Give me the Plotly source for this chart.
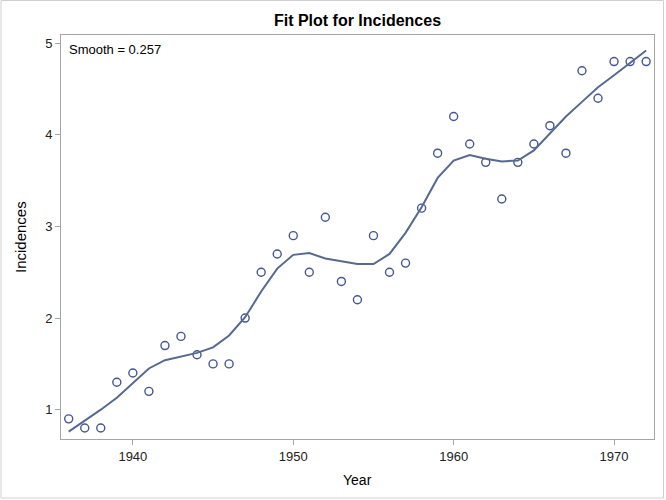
import plotly.graph_objects as go

years = list(range(1936, 1973))
incidences = [0.9, 0.8, 0.8, 1.3, 1.4, 1.2, 1.7, 1.8, 1.6, 1.5, 1.5, 2.0, 2.5, 2.7, 2.9,
              2.5, 3.1, 2.4, 2.2, 2.9, 2.5, 2.6, 3.2, 3.8, 4.2, 3.9, 3.7, 3.3, 3.7, 3.9,
              4.1, 3.8, 4.7, 4.4, 4.8, 4.8, 4.8]
fit_values = [0.76, 0.88, 1.00, 1.13, 1.29, 1.45, 1.54, 1.58, 1.62, 1.68, 1.81, 2.01,
              2.29, 2.54, 2.69, 2.71, 2.65, 2.62, 2.59, 2.59, 2.70, 2.93, 3.21, 3.53,
              3.72, 3.78, 3.74, 3.71, 3.72, 3.83, 4.02, 4.20, 4.36, 4.52, 4.65, 4.78, 4.92]
x_ticks = [1940, 1950, 1960, 1970]
y_ticks = [1, 2, 3, 4, 5]

FONT = "Liberation Sans, Arial, sans-serif"
W, H = 666, 500
L, R, T, B = 61, 12, 35, 61
pw = W - L - R
ph = H - T - B

fig = go.Figure()
fig.add_trace(go.Scatter(
    x=years, y=incidences, mode="markers",
    marker=dict(symbol="circle-open", size=8, color="#445694", line=dict(width=1.4, color="#445694")),
    showlegend=False, hoverinfo="x+y"))
fig.add_trace(go.Scatter(
    x=years, y=fit_values, mode="lines",
    line=dict(color="#56698f", width=2),
    showlegend=False))

axis_common = dict(
    showline=True, linecolor="#a5a5a5", linewidth=1, mirror=True,
    ticks="outside", ticklen=5, tickcolor="#a5a5a5", tickwidth=1,
    showgrid=False, zeroline=False,
    tickfont=dict(family=FONT, size=13, color="#222222"),
)


def px_x(px):
    return (px - L) / pw


def px_y(py):
    return 1 - (py - T) / ph


fig.update_layout(
    width=W, height=H,
    margin=dict(l=L, r=R, t=T, b=B, autoexpand=False),
    paper_bgcolor="white", plot_bgcolor="white",
    title=dict(text="<b>Fit Plot for Incidences</b>", x=(L + pw / 2) / W, xanchor="center",
               y=1 - 20 / H, yanchor="middle",
               font=dict(family=FONT, size=16, color="#000000")),
    xaxis=dict(range=[1935.52, 1972.49], tickvals=x_ticks, **axis_common),
    yaxis=dict(range=[0.68, 5.09], tickvals=y_ticks, **axis_common),
    annotations=[
        dict(text="Smooth = 0.257", xref="paper", yref="paper", x=6 / pw, y=1 - 5 / ph,
             xanchor="left", yanchor="top", showarrow=False,
             font=dict(family=FONT, size=13, color="#000000")),
        dict(text="Year", xref="paper", yref="paper", x=0.5, y=px_y(480),
             xanchor="center", yanchor="middle", showarrow=False,
             font=dict(family=FONT, size=14, color="#000000")),
        dict(text="Incidences", xref="paper", yref="paper", x=px_x(20), y=0.5, textangle=-90,
             xanchor="center", yanchor="middle", showarrow=False,
             font=dict(family=FONT, size=15, color="#000000")),
    ],
    shapes=[dict(type="rect", xref="paper", yref="paper",
                 x0=px_x(1), x1=px_x(663.5),
                 y0=px_y(498), y1=px_y(0.5),
                 line=dict(color="#d0d0d0", width=1), layer="below")],
)

fig.write_html("out.html", config={"displayModeBar": False},
               post_script="document.body.style.margin='0';")
